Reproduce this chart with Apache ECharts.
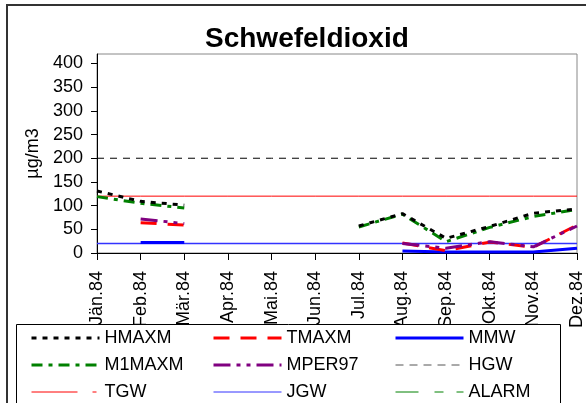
<!DOCTYPE html>
<html>
<head>
<meta charset="utf-8">
<script src="https://cdn.jsdelivr.net/npm/echarts@6/dist/echarts.min.js"></script>
<style>
  html, body { margin: 0; padding: 0; background: #fff; }
  #main { width: 586px; height: 403px; }
</style>
</head>
<body>
<div id="main"></div>
<script>
// Monatswerte 1984
var months = ['Jän.84', 'Feb.84', 'Mär.84', 'Apr.84', 'Mai.84', 'Jun.84', 'Jul.84', 'Aug.84', 'Sep.84', 'Okt.84', 'Nov.84', 'Dez.84'];
var hmaxm  = [131, 109, 101, null, null, null, 57, 83, 31, 56, 84, 93];
var m1maxm = [119, 105, 95, null, null, null, 55, 82, 24, 54, 77, 92];
var tmaxm  = [null, 64, 59, null, null, null, null, 21, 5, 23, 12, 59];
var mper97 = [null, 72, 62, null, null, null, null, 20, 10, 24, 13, 57];
var mmw    = [null, 22, 22, null, null, null, null, 4, 2, 2, 2, 10];
// Grenzwerte
var hgw   = [200, 200, 200, 200, 200, 200, 200, 200, 200, 200, 200, 200];
var tgw   = [120, 120, 120, 120, 120, 120, 120, 120, 120, 120, 120, 120];
var jgw   = [20, 20, 20, 20, 20, 20, 20, 20, 20, 20, 20, 20];
var alarm = [null, null, null, null, null, null, null, null, null, null, null, null];
var yTicks = [0, 50, 100, 150, 200, 250, 300, 350, 400];

var font = "'Liberation Sans', Arial, sans-serif";

function ser(name, data, color, width, dash) {
  return {
    name: name,
    type: 'line',
    data: data,
    symbol: 'none',
    connectNulls: false,
    silent: true,
    animation: false,
    lineStyle: { color: color, width: width, type: dash },
    itemStyle: { color: color }
  };
}

// legend eintrag mit eigener linie
function li(name, width, dash, color) {
  var ls = { width: width, type: dash };
  if (color) ls.color = color;
  return { name: name, lineStyle: ls };
}

function leg(left, items) {
  return {
    orient: 'vertical',
    left: left,
    top: 329,
    padding: 0,
    itemWidth: 68,
    itemHeight: 14,
    itemGap: 9,
    z: 20,
    selectedMode: false,
    data: items,
    itemStyle: { opacity: 0 },
    textStyle: { fontFamily: font, fontSize: 18, color: '#000', lineHeight: 18 }
  };
}

var chart = echarts.init(document.getElementById('main'));
chart.setOption({
  backgroundColor: '#fff',
  animation: false,
  title: {
    text: 'Schwefeldioxid',
    left: 205,
    top: 25,
    padding: 0,
    textStyle: { fontFamily: font, fontSize: 28, fontWeight: 'bold', color: '#000' }
  },
  grid: {
    left: 97, right: 6, top: 54, bottom: 150,
    show: true, borderColor: '#888', borderWidth: 1
  },
  xAxis: {
    type: 'category',
    data: months,
    boundaryGap: false,
    axisLine: { lineStyle: { color: '#000', width: 1 } },
    axisTick: { show: true, length: 7, alignWithLabel: true, lineStyle: { color: '#000' } },
    axisLabel: { rotate: 90, interval: 0, margin: 18, fontFamily: font, fontSize: 18, color: '#000' },
    splitLine: { show: false }
  },
  yAxis: {
    type: 'value',
    min: 0,
    max: 420,
    name: 'µg/m3',
    nameLocation: 'middle',
    nameRotate: 90,
    nameGap: 42,
    nameTextStyle: { fontFamily: font, fontSize: 18, color: '#000' },
    axisLine: { show: true, lineStyle: { color: '#000', width: 1 } },
    axisTick: { show: true, length: 6, customValues: yTicks, lineStyle: { color: '#000' } },
    axisLabel: { customValues: yTicks, margin: 14, fontFamily: font, fontSize: 18, color: '#000' },
    splitLine: { show: false }
  },
  legend: [
    leg(30, [li('HMAXM', 3, [5, 6]), li('M1MAXM', 3, [11, 6, 4, 6]), li('TGW', 1, [46, 15, 4, 40])]),
    leg(212, [li('TMAXM', 3, [16, 11]), li('MPER97', 3, [17, 6, 4, 6, 4, 6]), li('JGW', 1, 'solid')]),
    leg(394, [li('MMW', 3, 'solid'), li('HGW', 1, [8, 6], '#555'), li('ALARM', 1, [23, 16, 9, 13, 7, 20])])
  ],
  graphic: [
    {
      type: 'rect', z: 10, silent: true,
      shape: { x: 16.5, y: 324.5, width: 544, height: 90 },
      style: { fill: '#fff', stroke: '#000', lineWidth: 1 }
    },
    {
      type: 'rect', z: 30, silent: true,
      shape: { x: 7, y: 5, width: 620, height: 440 },
      style: { fill: 'none', stroke: '#333', lineWidth: 2 }
    }
  ],
  series: [
    ser('HGW', hgw, '#000', 1, [7, 6]),
    ser('TGW', tgw, '#ff0000', 1, 'solid'),
    ser('JGW', jgw, '#3333ff', 1.5, 'solid'),
    ser('ALARM', alarm, '#008000', 1, [14, 12]),
    ser('MMW', mmw, '#0000ff', 3, 'solid'),
    ser('TMAXM', tmaxm, '#ff0000', 3, [16, 11]),
    ser('MPER97', mper97, '#800080', 3, [17, 6, 4, 6, 4, 6]),
    ser('M1MAXM', m1maxm, '#008000', 3, [11, 6, 4, 6]),
    ser('HMAXM', hmaxm, '#000', 3, [5, 6])
  ]
});
</script>
</body>
</html>
